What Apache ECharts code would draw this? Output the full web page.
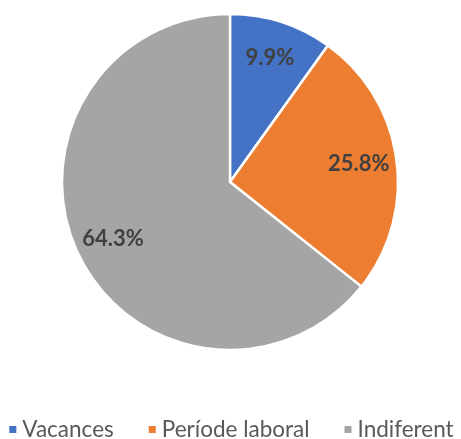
<!DOCTYPE html>
<html>
<head>
<meta charset="utf-8">
<script src="https://cdn.jsdelivr.net/npm/echarts@6/dist/echarts.min.js"></script>
<style>
  html, body { margin: 0; padding: 0; background: #fff; }
  #chart { width: 461px; height: 439px; }
</style>
</head>
<body>
<div id="chart"></div>
<script>
const categories = ['Vacances', 'Període laboral', 'Indiferent'];
const values = [9.9, 25.8, 64.3];
const colors = ['#4472C4', '#ED7D31', '#A5A5A5'];

const pieData = categories.map((name, i) => ({
  name: name,
  value: values[i],
  itemStyle: { color: colors[i] }
}));

const chart = echarts.init(document.getElementById('chart'));

chart.setOption({
  backgroundColor: '#ffffff',
  animation: false,
  legend: {
    top: 413,
    left: 'center',
    icon: 'rect',
    itemWidth: 9,
    itemHeight: 9,
    itemGap: 33,
    textStyle: { color: '#595959', fontSize: 22.5, fontFamily: 'Lato' },
    data: categories
  },
  series: [
    {
      type: 'pie',
      center: [230, 182],
      radius: [0, 168],
      startAngle: 90,
      clockwise: true,
      silent: true,
      itemStyle: { borderColor: '#ffffff', borderWidth: 2.5 },
      label: { show: false },
      labelLine: { show: false },
      data: pieData
    },
    {
      // transparent ring used only to place the percentage labels
      type: 'pie',
      center: [230, 182],
      radius: [86, 168],
      startAngle: 90,
      clockwise: true,
      silent: true,
      itemStyle: { color: 'rgba(0,0,0,0)' },
      label: {
        show: true,
        position: 'inside',
        formatter: p => p.value.toFixed(1) + '%',
        color: '#404040',
        fontSize: 22,
        fontWeight: 'bold',
        fontFamily: 'Lato'
      },
      labelLine: { show: false },
      data: categories.map((name, i) => ({ name: name, value: values[i] }))
    }
  ]
});
</script>
</body>
</html>
